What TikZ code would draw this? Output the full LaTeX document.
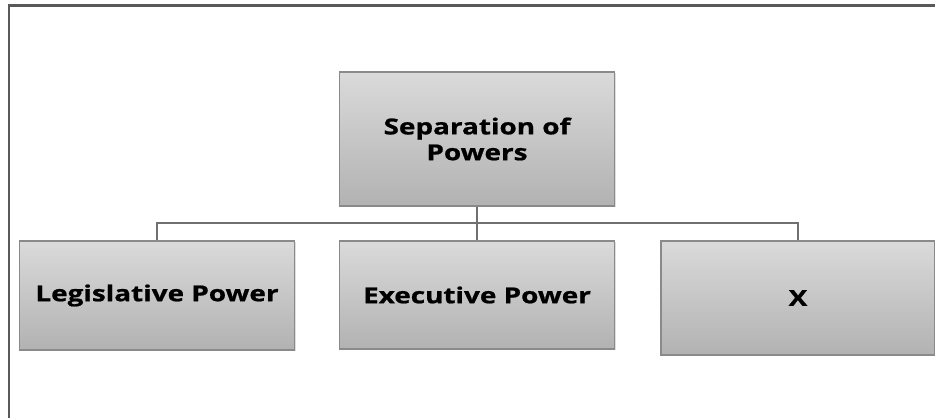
\documentclass[tikz,border=0pt]{standalone}
\usepackage{fontspec}
\newfontfamily\powerfont[FakeStretch=1.27,BoldFeatures={FakeBold=0.9}]{Open Sans}
\usetikzlibrary{shadows}
\definecolor{boxtop}{RGB}{218,218,218}
\definecolor{boxbot}{RGB}{178,178,178}
\definecolor{boxline}{RGB}{138,138,138}
\definecolor{linkgray}{RGB}{112,112,112}
\tikzset{
  powerbox/.style={draw=boxline,line width=.8pt,top color=boxtop,bottom color=boxbot,
    minimum width=5.5cm,inner sep=0pt,align=center,
    font=\powerfont\bfseries\fontsize{12.5}{14.7}\selectfont,
    drop shadow={opacity=.25,shadow xshift=.6pt,shadow yshift=-.6pt}},
  link/.style={draw=linkgray,line width=1.3pt}
}
\begin{document}
 \begin{tikzpicture}[x=.02cm,y=-.02cm]
   \useasboundingbox (0,0) rectangle (935,418);
   \draw[line width=1.5pt,black!65] (9,418) -- (9,5.5) -- (935,5.5);
   \node[powerbox,minimum height=2.68cm] (sep) at (477,139) {Separation of\\Powers};
   \node[powerbox,minimum height=2.18cm] (leg) at (157,295.5) {Legislative Power};
   \node[powerbox,minimum height=2.16cm] (exe) at (477,295) {Executive Power};
   \node[powerbox,minimum height=2.28cm,minimum width=5.48cm] (x) at (798,298) {X};
   \coordinate (bus) at (477,223);
   \draw[link] (sep.south) -- (exe.north);
   \draw[link] (leg.north) -- (leg.north |- bus) -- (x.north |- bus) -- (x.north);
 \end{tikzpicture}
\end{document}
